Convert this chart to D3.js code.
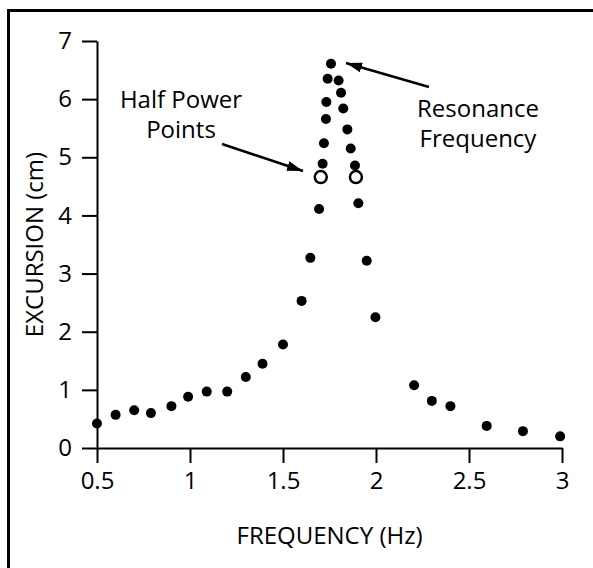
<!DOCTYPE html>
<html>
<head>
<meta charset="utf-8">
<script src="https://cdn.jsdelivr.net/npm/d3@7"></script>
<style>
  body { margin: 0; background: #fff; }
  text { font-family: "Open Sans", sans-serif; fill: #000; }
</style>
</head>
<body>
<div id="chart"></div>
<script>
// data
var freq = [0.5, 0.6, 0.7, 0.79, 0.9, 0.99, 1.09, 1.2, 1.3, 1.39, 1.5, 1.6,
  1.647, 1.694, 1.713, 1.72, 1.731, 1.733, 1.74, 1.758, 1.799, 1.812, 1.824,
  1.846, 1.864, 1.887, 1.905, 1.95, 1.997, 2.205, 2.3, 2.4, 2.595, 2.79, 2.99];
var excursion = [0.42, 0.57, 0.65, 0.6, 0.72, 0.88, 0.97, 0.97, 1.22, 1.45, 1.78, 2.53,
  3.27, 4.11, 4.89, 5.24, 5.66, 5.95, 6.35, 6.61, 6.32, 6.11, 5.84,
  5.48, 5.15, 4.86, 4.21, 3.22, 2.25, 1.08, 0.81, 0.72, 0.38, 0.29, 0.2];
var halfPowerFreq = [1.703, 1.892];
var halfPowerExc = [4.66, 4.66];
var xTicks = [0.5, 1, 1.5, 2, 2.5, 3];
var yTicks = [0, 1, 2, 3, 4, 5, 6, 7];

var width = 593, height = 568;
var fontSize = 24;

var svg = d3.select("#chart").append("svg")
  .attr("width", width)
  .attr("height", height);

// outer frame
svg.append("rect")
  .attr("x", 8.5).attr("y", 10.5)
  .attr("width", 700).attr("height", 700)
  .attr("fill", "none").attr("stroke", "#000").attr("stroke-width", 3);

var x = d3.scaleLinear().domain([0.5, 3]).range([97, 562]);
var y = d3.scaleLinear().domain([0, 7]).range([448, 41]);

svg.append("defs").append("marker")
  .attr("id", "arrow")
  .attr("viewBox", "0 0 16 10")
  .attr("refX", 16).attr("refY", 5)
  .attr("markerWidth", 16).attr("markerHeight", 10)
  .attr("markerUnits", "userSpaceOnUse")
  .attr("orient", "auto")
  .append("path")
  .attr("d", "M0,0 L16,5 L0,10 Z")
  .attr("fill", "#000");

// axes
var xAxis = svg.append("g")
  .attr("transform", "translate(0," + y(0) + ")")
  .call(d3.axisBottom(x).tickValues(xTicks).tickSize(15).tickSizeOuter(0).tickPadding(9)
    .tickFormat(d3.format("")));
var yAxis = svg.append("g")
  .attr("transform", "translate(" + x(0.5) + ",0)")
  .call(d3.axisLeft(y).tickValues(yTicks).tickSize(15).tickSizeOuter(0).tickPadding(10)
    .tickFormat(d3.format("d")));

[xAxis, yAxis].forEach(function(g) {
  g.select(".domain").attr("stroke-width", 2);
  g.selectAll(".tick line").attr("stroke-width", 2);
  g.selectAll(".tick text")
    .style("font-family", "'Open Sans', sans-serif")
    .style("font-size", fontSize + "px")
    .attr("fill", "#000");
});

// axis titles
svg.append("text")
  .attr("x", (x(0.5) + x(3)) / 2).attr("y", 544)
  .attr("text-anchor", "middle")
  .style("font-size", fontSize + "px")
  .text("FREQUENCY (Hz)");

svg.append("text")
  .attr("transform", "translate(43," + (y(0) + y(7)) / 2 + ") rotate(-90)")
  .attr("text-anchor", "middle")
  .style("font-size", fontSize + "px")
  .text("EXCURSION (cm)");

// points
var pts = freq.map(function(f, i) { return {f: f, v: excursion[i]}; });
svg.selectAll("circle.pt").data(pts).enter().append("circle")
  .attr("class", "pt")
  .attr("cx", function(d) { return x(d.f); })
  .attr("cy", function(d) { return y(d.v); })
  .attr("r", 5)
  .attr("fill", "#000");

var hp = halfPowerFreq.map(function(f, i) { return {f: f, v: halfPowerExc[i]}; });
svg.selectAll("circle.hp").data(hp).enter().append("circle")
  .attr("class", "hp")
  .attr("cx", function(d) { return x(d.f); })
  .attr("cy", function(d) { return y(d.v); })
  .attr("r", 6)
  .attr("fill", "#fff")
  .attr("stroke", "#000")
  .attr("stroke-width", 2.5);

// annotations
function label(lines, cx, baseline) {
  svg.append("text")
    .attr("text-anchor", "middle")
    .style("font-size", fontSize + "px")
    .selectAll("tspan").data(lines).enter().append("tspan")
    .attr("x", cx)
    .attr("y", function(d, i) { return baseline + i * 30; })
    .text(function(d) { return d; });
}
label(["Half Power", "Points"], 181, 108);
label(["Resonance", "Frequency"], 478, 117);

svg.append("line")
  .attr("x1", 222).attr("y1", 144)
  .attr("x2", 303).attr("y2", 171)
  .attr("stroke", "#000").attr("stroke-width", 2.5)
  .attr("marker-end", "url(#arrow)");
svg.append("line")
  .attr("x1", 429).attr("y1", 87)
  .attr("x2", 346).attr("y2", 63)
  .attr("stroke", "#000").attr("stroke-width", 2.5)
  .attr("marker-end", "url(#arrow)");
</script>
</body>
</html>
